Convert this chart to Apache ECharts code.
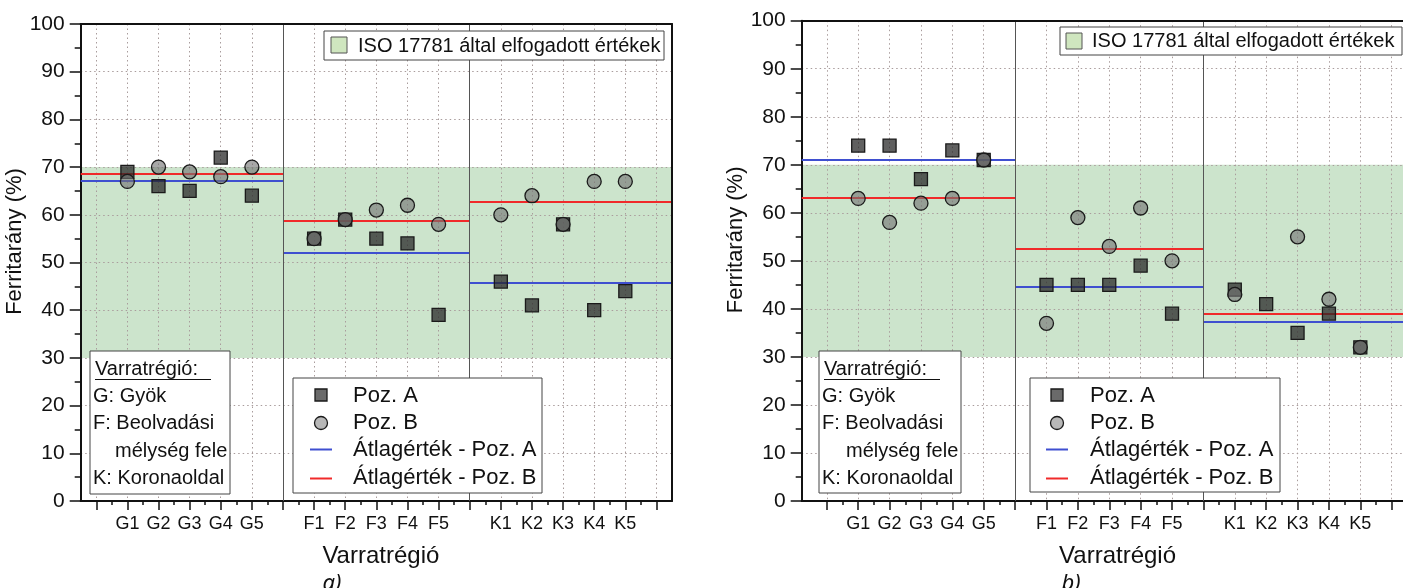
<!DOCTYPE html>
<html>
<head>
<meta charset="utf-8">
<script src="https://cdn.jsdelivr.net/npm/echarts@6/dist/echarts.min.js"></script>
<style>
html,body{margin:0;padding:0;background:#fff;overflow:hidden;}
#c{width:1420px;height:588px;}
</style>
</head>
<body>
<div id="c"></div>
<script>
// ---------- data ----------
const catsG = ['G1','G2','G3','G4','G5'];
const catsF = ['F1','F2','F3','F4','F5'];
const catsK = ['K1','K2','K3','K4','K5'];
const yTicks = [0,10,20,30,40,50,60,70,80,90,100];
const isoRange = [30, 70];

// chart a)
const aPozA  = [69,66,65,72,64, 55,59,55,54,39, 46,41,58,40,44];
const aPozB  = [67,70,69,68,70, 55,59,61,62,58, 60,64,58,67,67];
const aMeanA = [67.1, 52.1, 45.8];
const aMeanB = [68.6, 58.7, 62.7];

// chart b)
const bPozA  = [74,74,67,73,71, 45,45,45,49,39, 44,41,35,39,32];
const bPozB  = [63,58,62,63,71, 37,59,53,61,50, 43,null,55,42,32];
const bMeanA = [71.1, 44.6, 37.3];
const bMeanB = [63.1, 52.5, 38.9];

// ---------- layout helpers ----------
const groups = [catsG, catsF, catsK];
const dividers = [7, 13];
const FONT = '"Liberation Sans", Arial, sans-serif';
const posMap = {};
const positions = [];
groups.forEach((cats, g) => cats.forEach((c, i) => {
  const p = 2 + g * 6 + i; posMap[p] = c; positions.push(p);
}));
const majorTicks = []; for (let i = 1; i <= 19; i++) majorTicks.push(i);
const minorTicks = []; for (let i = 1; i <= 18; i++) minorTicks.push(i + 0.5);

const C_SQ = 'rgba(40,40,40,0.74)';
const C_CI = 'rgba(115,115,115,0.62)';
const C_BLUE = '#3f4fd0';
const C_RED = '#f02a2a';
const C_BAND = 'rgba(120,185,120,0.38)';
const GRIDLINE = {show:true, lineStyle:{color:'#a99c9c', width:1, type:[1.5,3]}};

const grids = [
  {left:80.7, top:24, width:591.3, height:477},
  {left:801.7, top:20.7, width:605.7, height:480.3}
];
const cfgs = [
  {xmin:0.5, xmax:19.5, A:aPozA, B:aPozB, mA:aMeanA, mB:aMeanB, xNamePad:[0,0,0,9]},
  {xmin:0.2, xmax:19.5, A:bPozA, B:bPozB, mA:bMeanA, mB:bMeanB, xNamePad:[0,0,0,26]}
];

const xAxis = [], yAxis = [], series = [];
cfgs.forEach((cfg, k) => {
  const xi = xAxis.length, yi = yAxis.length;
  xAxis.push({
    gridIndex:k, type:'value', min:cfg.xmin, max:cfg.xmax, position:'bottom', z:3,
    name:'Varratrégió', nameLocation:'middle', nameGap:43,
    nameTextStyle:{fontFamily:FONT, fontSize:24, color:'#111', padding:cfg.xNamePad},
    axisLine:{show:true, onZero:false, lineStyle:{color:'#111', width:2}},
    axisTick:{show:true, customValues:majorTicks, length:9, inside:false, lineStyle:{color:'#111', width:1.5}},
    axisLabel:{show:true, customValues:positions, margin:14, fontFamily:FONT, fontSize:18, color:'#111',
      formatter:(v) => posMap[Math.round(v)] || ''},
    splitLine:GRIDLINE
  });
  xAxis.push({
    gridIndex:k, type:'value', min:cfg.xmin, max:cfg.xmax, position:'bottom', z:3,
    axisLine:{show:false},
    axisTick:{show:true, customValues:minorTicks, length:4, lineStyle:{color:'#111', width:1.5}},
    axisLabel:{show:false}, splitLine:{show:false}
  });
  xAxis.push({
    gridIndex:k, type:'value', min:cfg.xmin, max:cfg.xmax, position:'top', z:10,
    axisLine:{show:true, onZero:false, lineStyle:{color:'#111', width:2}},
    axisTick:{show:false}, axisLabel:{show:false}, splitLine:{show:false}
  });
  yAxis.push({
    gridIndex:k, type:'value', min:0, max:100, interval:10, position:'left', z:3,
    name:'Ferritarány (%)', nameLocation:'middle', nameGap:46,
    nameTextStyle:{fontFamily:FONT, fontSize:22, color:'#111', padding:[0,0,0,42]},
    axisLine:{show:true, onZero:false, lineStyle:{color:'#111', width:2}},
    axisTick:{show:true, length:11, lineStyle:{color:'#111', width:1.5}},
    minorTick:{show:true, splitNumber:2, length:6, lineStyle:{color:'#111', width:1.5}},
    axisLabel:{show:true, margin:16, fontFamily:FONT, fontSize:21, color:'#111',
      customValues:yTicks},
    splitLine:GRIDLINE
  });
  yAxis.push({
    gridIndex:k, type:'value', min:0, max:100, position:'right', z:10,
    axisLine:{show:true, onZero:false, lineStyle:{color:'#111', width:2}},
    axisTick:{show:false}, axisLabel:{show:false}, splitLine:{show:false}
  });

  const bounds = [cfg.xmin, dividers[0], dividers[1], cfg.xmax];
  const seg = (vals) => vals.map((v, g) => [{coord:[bounds[g], v]}, {coord:[bounds[g+1], v]}]);

  series.push({
    type:'line', name:'ISO 17781 által elfogadott értékek', xAxisIndex:xi, yAxisIndex:yi, z:1, data:[],
    silent:true,
    markArea:{silent:true, itemStyle:{color:C_BAND},
      data:[[{coord:[cfg.xmin, isoRange[0]]},{coord:[cfg.xmax, isoRange[1]]}]]}
  });
  series.push({
    type:'line', name:'Átlagérték - Poz. A', xAxisIndex:xi, yAxisIndex:yi, z:4, data:[], silent:true,
    markLine:{silent:true, symbol:['none','none'], label:{show:false}, animation:false,
      lineStyle:{color:C_BLUE, width:2, type:'solid'}, data:seg(cfg.mA)}
  });
  series.push({
    type:'line', name:'Átlagérték - Poz. B', xAxisIndex:xi, yAxisIndex:yi, z:4, data:[], silent:true,
    markLine:{silent:true, symbol:['none','none'], label:{show:false}, animation:false,
      lineStyle:{color:C_RED, width:2, type:'solid'}, data:seg(cfg.mB)}
  });
  series.push({
    type:'line', name:'dividers', xAxisIndex:xi, yAxisIndex:yi, z:4, data:[], silent:true,
    markLine:{silent:true, symbol:['none','none'], label:{show:false}, animation:false,
      lineStyle:{color:'#555', width:1, type:'solid'},
      data:dividers.map(d => ({xAxis:d}))}
  });
  series.push({
    type:'scatter', name:'Poz. A', xAxisIndex:xi, yAxisIndex:yi, z:5,
    symbol:'rect', symbolSize:13,
    itemStyle:{color:C_SQ, borderColor:'#1a1a1a', borderWidth:1.3, opacity:1},
    data:cfg.A.map((v, i) => v == null ? null : [positions[i], v]).filter(d => d)
  });
  series.push({
    type:'scatter', name:'Poz. B', xAxisIndex:xi, yAxisIndex:yi, z:6,
    symbol:'circle', symbolSize:14,
    itemStyle:{color:C_CI, borderColor:'#1a1a1a', borderWidth:1.3, opacity:1},
    data:cfg.B.map((v, i) => v == null ? null : [positions[i], v]).filter(d => d)
  });
});

// ---------- legends / annotation boxes (graphic) ----------
function txt(x, y, s, size, extra) {
  return Object.assign({type:'text', z:100, silent:true,
    style:{text:s, x:x, y:y, fill:'#111', font:size + 'px ' + FONT, verticalAlign:'middle', align:'left'}}, extra || {});
}
function box(x, y, w, h) {
  return {type:'rect', z:99, silent:true, shape:{x:x, y:y, width:w, height:h},
    style:{fill:'#fff', stroke:'#444', lineWidth:1}};
}
const graphics = [];
const legendSets = [
  {iso:{x:324, y:31, w:340, h:29, sx:331, sy:37, tx:358},
   var:{x:90, y:351, w:140, h:143, tx:93, ux:95, uw:116, mx:115},
   ser:{x:293, y:378, w:249, h:115, ix:321, tx:353},
   tag:{x:332, s:'a)'}},
  {iso:{x:1060, y:27, w:342, h:28, sx:1066, sy:33, tx:1092},
   var:{x:819, y:351, w:142, h:142, tx:822, ux:824, uw:116, mx:846},
   ser:{x:1030, y:378, w:250, h:114, ix:1057, tx:1090},
   tag:{x:1071, s:'b)'}}
];
legendSets.forEach(L => {
  const I = L.iso;
  graphics.push(box(I.x, I.y, I.w, I.h));
  graphics.push({type:'rect', z:100, silent:true, shape:{x:I.sx, y:I.sy, width:16, height:16},
    style:{fill:'#cfe6bf', stroke:'#555', lineWidth:1}});
  graphics.push(txt(I.tx, I.y + I.h/2 + 0.5, 'ISO 17781 által elfogadott értékek', 20));

  const V = L.var;
  graphics.push(box(V.x, V.y, V.w, V.h));
  graphics.push(txt(V.ux, 369, 'Varratrégió:', 20));
  graphics.push({type:'line', z:100, silent:true, shape:{x1:V.ux, y1:379.5, x2:V.ux + V.uw, y2:379.5},
    style:{stroke:'#111', lineWidth:1.2}});
  graphics.push(txt(V.tx, 396, 'G: Gyök', 20));
  graphics.push(txt(V.tx, 423, 'F: Beolvadási', 20));
  graphics.push(txt(V.mx, 451, 'mélység fele', 20));
  graphics.push(txt(V.tx, 478, 'K: Koronaoldal', 20));

  const S = L.ser;
  graphics.push(box(S.x, S.y, S.w, S.h));
  graphics.push({type:'rect', z:100, silent:true, shape:{x:S.ix - 6, y:389, width:12, height:12},
    style:{fill:'#6a6a6a', stroke:'#1a1a1a', lineWidth:1.3}});
  graphics.push({type:'circle', z:100, silent:true, shape:{cx:S.ix, cy:423, r:6.5},
    style:{fill:'#b8b8b8', stroke:'#1a1a1a', lineWidth:1.3}});
  graphics.push({type:'line', z:100, silent:true, shape:{x1:S.ix - 11, y1:449.5, x2:S.ix + 11, y2:449.5},
    style:{stroke:C_BLUE, lineWidth:2}});
  graphics.push({type:'line', z:100, silent:true, shape:{x1:S.ix - 11, y1:478.5, x2:S.ix + 11, y2:478.5},
    style:{stroke:C_RED, lineWidth:2}});
  graphics.push(txt(S.tx, 396, 'Poz. A', 22));
  graphics.push(txt(S.tx, 423, 'Poz. B', 22));
  graphics.push(txt(S.tx, 450, 'Átlagérték - Poz. A', 22));
  graphics.push(txt(S.tx, 478, 'Átlagérték - Poz. B', 22));

  graphics.push({type:'text', z:100, silent:true,
    style:{text:L.tag.s, x:L.tag.x, y:584, fill:'#111', font:'italic 22px "Noto Sans", sans-serif',
      align:'center', verticalAlign:'middle'}});
});

const chart = echarts.init(document.getElementById('c'), null, {renderer:'canvas'});
chart.setOption({
  animation:false,
  backgroundColor:'#fff',
  grid:grids.map(g => Object.assign({containLabel:false}, g)),
  xAxis:xAxis,
  yAxis:yAxis,
  series:series,
  graphic:graphics
});
</script>
</body>
</html>
